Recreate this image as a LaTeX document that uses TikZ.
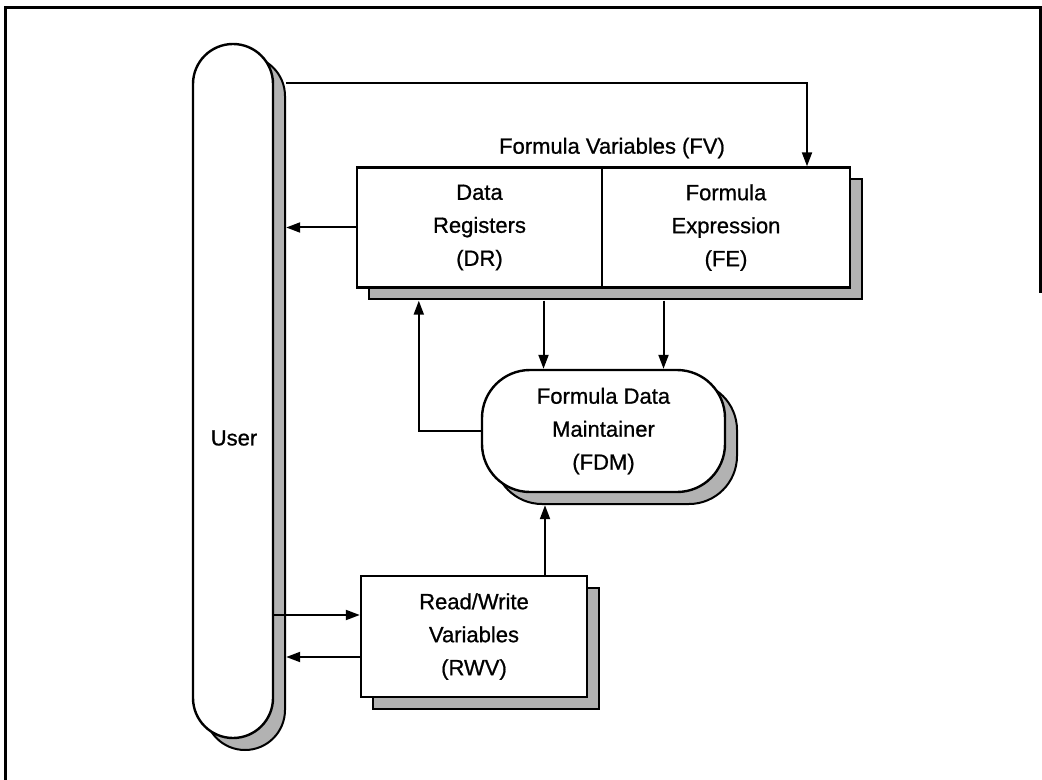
\documentclass[tikz,border=0pt]{standalone}
\usepackage{fontspec}
\setmainfont{Liberation Sans}
\newfontfamily\diafont{Liberation Sans}[FakeBold=0.8]
\usetikzlibrary{arrows.meta,calc,shadows,fit,backgrounds}
\tikzset{
	shd/.style={drop shadow={shadow xshift=6pt,shadow yshift=-6pt,opacity=1,fill=gray!60,draw=black,line width=1pt}},
	lbl/.style={font=\diafont\fontsize{11}{16.5}\selectfont},
	regbox/.style={draw,fill=white,line width=1.2pt,align=center,inner sep=0pt,lbl},
	procpill/.style={regbox,shd,rounded corners=20pt}
}
\begin{document}
\begin{tikzpicture}[x=0.5pt,y=-0.5pt,>={Triangle[length=7pt,width=5pt]},line width=1pt]
	\useasboundingbox (0,0) rectangle (1042,780);
	\draw[line width=1.5pt] (5,780)--(5,8)--(1040,8)--(1040,293);
	% user
	\node[procpill,minimum width=40pt,minimum height=347pt] (User) at (233,391) {};
	\node[lbl] (userlbl) at (234,438) {User};
	% registers and expression
	\node[regbox,minimum width=122.5pt,minimum height=60pt] (DR) at (479.5,227.5) {Data\\Registers\\(DR)};
	\node[regbox,minimum width=124pt,minimum height=60pt] (FE) at (726,227.5) {Formula\\Expression\\(FE)};
	\begin{scope}[on background layer]
		\node[fit=(DR)(FE),inner sep=-0.6pt,draw,fill=white,line width=1.2pt,shd] (FV) {};
	\end{scope}
	\node[lbl] (fvlbl) at (612,148) {Formula Variables (FV)};
	% maintainer
	\node[procpill,rounded corners=24pt,minimum width=121.5pt,minimum height=61pt] (FDM) at (603.5,431) {Formula Data\\Maintainer\\(FDM)};
	% read/write
	\node[regbox,shd,minimum width=113pt,minimum height=60.5pt] (RWV) at (474,636.5) {Read/Write\\Variables\\(RWV)};
	% connectors
	\coordinate (fvstart) at ($(User.north east)+(6pt,-20pt)$);
	\draw[->] (fvstart) -| ($(FE.north)+(40.5pt,0)$);
	\draw[->] (DR.west) -- ($(DR.west -| User.east)+(6pt,0)$);
	\coordinate (drout) at ($(FDM.north)+(-30pt,0)$);
	\coordinate (feout) at ($(FDM.north)+(30pt,0)$);
	\draw[->] ($(drout |- FV.south)+(0,-6pt)$) -- (drout);
	\draw[->] ($(feout |- FV.south)+(0,-6pt)$) -- (feout);
	\coordinate (drin) at ($(DR.south west)+(31.5pt,-6pt)$);
	\draw[->] (FDM.west) -| (drin);
	\coordinate (rwvtop) at ($(RWV.north)+(35.5pt,0)$);
	\draw[->] (rwvtop) -- ($(rwvtop |- FDM.south)+(0,-6pt)$);
	\draw[->] ($(User.east |- RWV.west)+(0,10.75pt)$) -- ($(RWV.west)+(0,10.75pt)$);
	\draw[->] ($(RWV.west)+(0,-10.25pt)$) -- ($(User.east |- RWV.west)+(6pt,-10.25pt)$);
\end{tikzpicture}
\end{document}
